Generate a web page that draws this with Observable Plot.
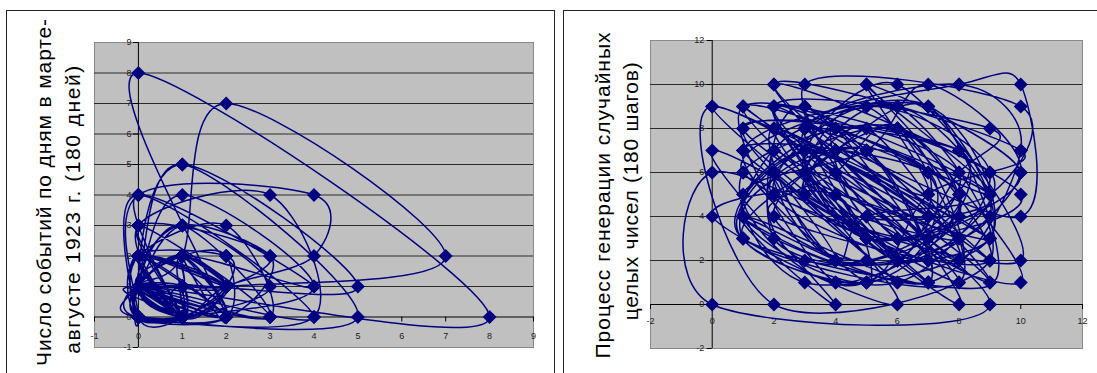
<!DOCTYPE html>
<html>
<head>
<meta charset="utf-8">
<script src="https://cdn.jsdelivr.net/npm/d3@7"></script>
<script src="https://cdn.jsdelivr.net/npm/@observablehq/plot@0.6"></script>
<style>
  html, body { margin: 0; padding: 0; background: #fff; width: 1097px; height: 373px; overflow: hidden; }
  #root { position: relative; width: 1097px; height: 373px; overflow: hidden; }
  .panel { position: absolute; border: 1px solid #222; box-sizing: border-box; }
  .title { position: absolute; white-space: nowrap; font-family: "Liberation Sans", Arial, sans-serif;
           font-size: 21px; color: #000; transform: translate(-50%, -50%) rotate(-90deg); line-height: 1; }
  .chart { position: absolute; top: 0; }
</style>
</head>
<body>
<div id="root"></div>
<script>
// ---- Data: daily counts (lag plot x_t vs x_t+1) ----
const leftSeries = [
  1,0,0,1,2,1,0,0,1,3,2,1,1,0,2,0,1,1,0,0,
  0,4,4,2,1,0,1,2,2,0,0,1,1,1,0,2,1,2,0,8,
  0,1,0,0,2,3,0,1,1,2,0,0,1,0,1,5,1,1,0,2,
  2,1,0,0,1,4,1,0,0,2,0,1,3,1,0,0,1,2,1,1,
  0,1,2,7,2,1,1,0,0,1,1,2,1,0,3,4,0,0,1,0,
  2,1,1,0,0,1,0,3,2,0,1,1,0,2,2,1,0,0,1,5,
  0,0,1,2,0,1,0,1,1,0,4,1,2,0,0,2,1,0,1,3,
  0,1,0,0,2,1,1,2,0,0,1,0,3,0,1,2,1,0,2,0,
  1,1,0,0,4,0,1,0,2,1,1,0,0,1,2,0,0,1,0,1,0
];
// ---- Data: generated integers 0..10 (180 steps) ----
const rightSeries = [
  5,3,8,1,7,6,2,9,5,10,6,3,5,8,2,7,1,9,5,4,
  8,0,9,3,6,10,2,5,7,1,4,8,6,3,9,2,10,7,5,1,
  3,6,8,4,2,7,9,1,9,0,0,6,3,8,10,10,4,7,2,5,
  9,6,1,3,8,5,2,4,7,9,3,1,6,8,2,10,5,3,7,4,
  1,9,6,2,8,3,5,7,1,4,0,7,2,9,8,6,3,10,9,5,
  4,2,6,1,8,7,3,5,9,2,4,6,8,1,3,7,5,10,1,6,
  9,4,2,8,3,6,0,4,5,1,7,9,3,2,6,8,4,1,5,7,
  10,6,2,9,3,8,5,1,4,7,6,2,3,9,1,8,7,4,5,3,
  6,9,2,0,9,1,3,7,4,6,2,9,5,3,8,10,7,1,4,2,6
];
const leftTicks = [-1,0,1,2,3,4,5,6,7,8,9];
const leftGrid = [1,2,3,4,5,6,7,8];
const rightTicks = [-2,0,2,4,6,8,10,12];
const rightGrid = [2,4,6,8,10];
const leftTitle = ["Число событий по дням в марте-", "августе 1923 г. (180 дней)"];
const rightTitle = ["Процесс генерации случайных", "целых чисел (180 шагов)"];

const root = document.getElementById("root");
const navy = "#000080";
const font = "Liberation Sans, Arial, sans-serif";

function panel(series, ticks, grid, cfg) {
  const pairs = d3.pairs(series).map(([a, b]) => ({x: a, y: b}));
  const dom = [ticks[0], ticks[ticks.length - 1]];
  const chart = Plot.plot({
    width: cfg.width, height: 373,
    marginLeft: cfg.ml, marginRight: cfg.mr, marginTop: cfg.mt, marginBottom: cfg.mb,
    style: {background: "transparent", overflow: "visible"},
    x: {domain: dom, axis: null},
    y: {domain: dom, axis: null},
    marks: [
      Plot.frame({fill: "#c0c0c0", stroke: "#8a8a8a"}),
      Plot.ruleY(grid, {stroke: "#2a2a2a", strokeWidth: 1}),
      Plot.ruleY([0], {stroke: "#000"}),
      Plot.ruleX([0], {stroke: "#000"}),
      Plot.ruleX(ticks, {x: d => d, y1: 0, y2: 0, insetBottom: -5, stroke: "#000"}),
      Plot.ruleY(ticks, {y: d => d, x1: 0, x2: 0, insetLeft: -5, stroke: "#000"}),
      Plot.text(ticks, {x: d => d, y: 0, dy: cfg.xdy, text: d => String(d), fontSize: 9, fontFamily: font, fill: "#222"}),
      Plot.text(ticks, {x: 0, y: d => d, dx: cfg.ydx, text: d => String(d), textAnchor: "end", fontSize: 9, fontFamily: font, fill: "#222"}),
      Plot.line(pairs, {x: "x", y: "y", curve: "cardinal", tension: 0, stroke: navy, strokeWidth: 1.5, clip: true}),
      Plot.dot(pairs, {x: "x", y: "y", symbol: "diamond2", r: 6.3, fill: navy})
    ]
  });
  chart.classList.add("chart");
  chart.style.left = cfg.left + "px";
  root.appendChild(chart);
}

function box(left, top, w, h) {
  const d = document.createElement("div");
  d.className = "panel";
  Object.assign(d.style, {left: left + "px", top: top + "px", width: w + "px", height: h + "px"});
  root.appendChild(d);
}
function title(text, cx, cy, len) {
  const d = document.createElement("div");
  d.className = "title";
  d.textContent = text;
  Object.assign(d.style, {left: cx + "px", top: cy + "px"});
  root.appendChild(d);
  const natural = d.getBoundingClientRect().height; // rotated: height is the text length
  const ls = (len - natural) / Math.max(1, text.length - 1);
  d.style.letterSpacing = ls + "px";
}

box(6, 10, 549, 400);
box(563, 10, 560, 400);

panel(leftSeries, leftTicks, leftGrid, {left: 0, width: 553, ml: 94, mr: 20, mt: 42, mb: 26, xdy: 19, ydx: -7});
panel(rightSeries, rightTicks, rightGrid, {left: 563, width: 534, ml: 87, mr: 15, mt: 40, mb: 25, xdy: 17, ydx: -8});

title(leftTitle[0], 43, 192, 347);
title(leftTitle[1], 72, 209, 288);
title(rightTitle[0], 602, 195, 326);
title(rightTitle[1], 630, 191, 258);
</script>
</body>
</html>
